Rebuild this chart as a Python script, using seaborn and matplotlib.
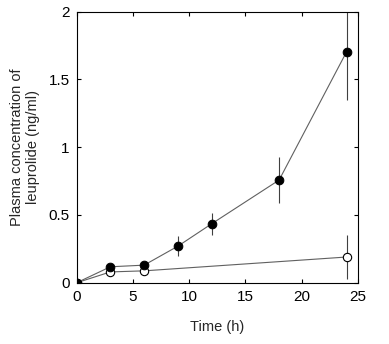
import matplotlib
matplotlib.use("Agg")
import matplotlib.pyplot as plt
import seaborn as sns
import pandas as pd

time_filled = [0, 3, 6, 9, 12, 18, 24]
conc_filled = [0.0, 0.118, 0.13, 0.27, 0.435, 0.758, 1.705]
err_filled = [0.0, 0.0, 0.0, 0.075, 0.08, 0.17, 0.36]

time_open = [0, 3, 6, 24]
conc_open = [0.0, 0.08, 0.088, 0.19]
err_open = [0.0, 0.0, 0.0, 0.16]

sns.set_style("ticks")
plt.rcParams['font.family'] = ['Liberation Sans', 'DejaVu Sans']

fig = plt.figure(figsize=(3.89, 3.44), dpi=100)
ax = fig.add_axes([0.197, 0.178, 0.723, 0.788])

df_f = pd.DataFrame({"t": time_filled, "c": conc_filled})
df_o = pd.DataFrame({"t": time_open, "c": conc_open})

line_col = "#606060"
ax.errorbar(time_open, conc_open, yerr=err_open, fmt="none", ecolor="#404040", elinewidth=0.8, capsize=0, zorder=2)
ax.errorbar(time_filled, conc_filled, yerr=err_filled, fmt="none", ecolor="#404040", elinewidth=0.8, capsize=0, zorder=2)
sns.lineplot(data=df_o, x="t", y="c", ax=ax, color=line_col, linewidth=0.8, marker="o",
             markersize=6, markerfacecolor="white", markeredgecolor="black", markeredgewidth=0.8, zorder=3)
sns.lineplot(data=df_f, x="t", y="c", ax=ax, color=line_col, linewidth=0.8, marker="o",
             markersize=6.2, markerfacecolor="black", markeredgecolor="black", zorder=4)

ax.set_xlim(0, 25)
ax.set_ylim(0, 2)
ax.set_xticks([0, 5, 10, 15, 20, 25])
ax.set_yticks([0, 0.5, 1, 1.5, 2])
ax.set_yticklabels(["0", "0.5", "1", "1.5", "2"])
ax.tick_params(direction="in", top=True, right=True, length=3, width=0.8, labelsize=11, pad=5, colors="black")
for s in ax.spines.values():
    s.set_visible(True)
    s.set_linewidth(0.8)
    s.set_color("black")
ax.set_xlabel("Time (h)", fontsize=10.5, labelpad=12)
ax.set_ylabel("Plasma concentration of\nleuprolide (ng/ml)", fontsize=10.5, labelpad=6)

fig.savefig("out.png", dpi=100)
